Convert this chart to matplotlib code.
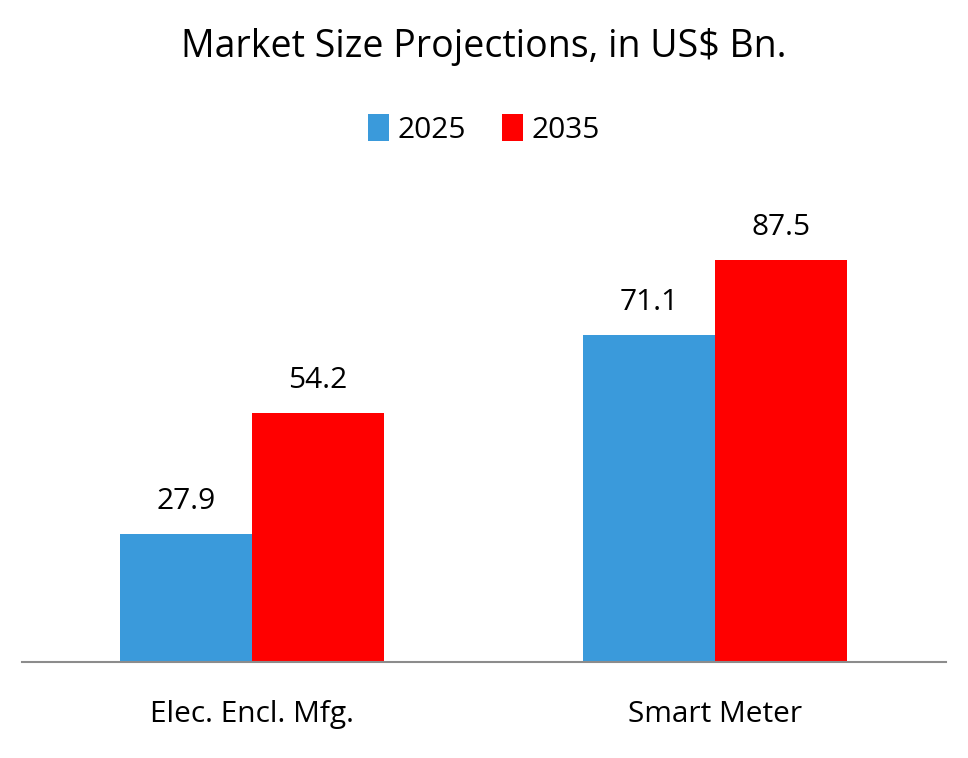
import matplotlib
matplotlib.use("Agg")
import matplotlib.pyplot as plt
import numpy as np

plt.rcParams['font.family'] = ['Open Sans', 'DejaVu Sans']

categories = ["Elec. Encl. Mfg.", "Smart Meter"]
years = ["2025", "2035"]
values_2025 = [27.9, 71.1]
values_2035 = [54.2, 87.5]

blue = "#3A9ADB"
red = "#FF0000"

fig = plt.figure(figsize=(9.68, 7.58), dpi=100)
ax = fig.add_axes([0.0227, 0.1266, 0.9545, 0.606])

x = np.arange(len(categories))
w = 0.285
b1 = ax.bar(x - w / 2, values_2025, w, color=blue, label=years[0])
b2 = ax.bar(x + w / 2, values_2035, w, color=red, label=years[1])

# value labels above bars
for bars in (b1, b2):
    for rect in bars:
        h = rect.get_height()
        ax.annotate(f"{h:.1f}", (rect.get_x() + rect.get_width() / 2, h),
                    xytext=(0, 18), textcoords="offset points",
                    ha="center", va="baseline", fontsize=21.5)

# category labels under the axis
for xi, name in zip(x, categories):
    ax.annotate(name, (xi, 0), xycoords=("data", "axes fraction"),
                xytext=(0, -43), textcoords="offset points",
                ha="center", va="baseline", fontsize=21.5)

ax.set_xlim(-0.497, 1.499)
ax.set_ylim(0, 100)
ax.set_yticks([])
ax.set_xticks([])
for s in ["top", "right", "left"]:
    ax.spines[s].set_visible(False)
ax.spines["bottom"].set_color("#8C8C8C")
ax.spines["bottom"].set_linewidth(1.5)

fig.text(0.5, 1 - 57 / 758, "Market Size Projections, in US$ Bn.", ha="center", va="baseline", fontsize=27)
fig.legend(handles=[b1, b2], labels=years, loc="center", bbox_to_anchor=(0.5, 0.829),
           ncol=2, frameon=False, fontsize=21.5, handlelength=0.7, handleheight=1.0,
           handletextpad=0.3, columnspacing=1.2)

fig.savefig("out.png", dpi=100)
